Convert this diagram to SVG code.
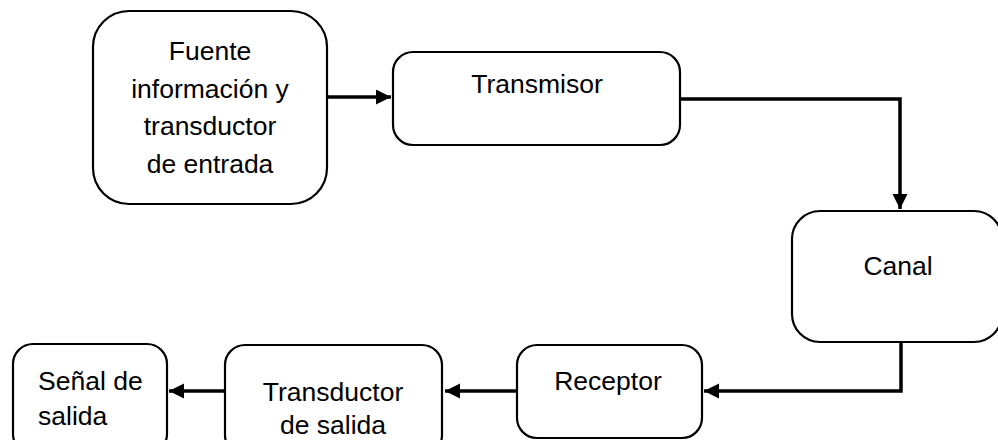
<svg xmlns="http://www.w3.org/2000/svg" width="998" height="440" viewBox="0 0 998 440">
<style>
.box{fill:#fff;stroke:#000;stroke-width:2.2}
.t{font-family:"Liberation Sans",Arial,sans-serif;font-size:26.5px;fill:#000}
.c{text-anchor:middle}
.ln{fill:none;stroke:#000;stroke-width:3.5}
</style>
<defs>
<marker id="ah" markerUnits="userSpaceOnUse" markerWidth="16" markerHeight="16" refX="15" refY="7.5" orient="auto">
<path d="M0,0 L15,7.5 L0,15 Z" fill="#000"/>
</marker>
</defs>
<rect width="998" height="440" fill="#fff"/>
<g id="connectors">
<path class="ln" d="M327,97 H391" marker-end="url(#ah)"/>
<path class="ln" d="M680,99 H900 V209" marker-end="url(#ah)"/>
<path class="ln" d="M901,342 V391 H704" marker-end="url(#ah)"/>
<path class="ln" d="M517,391 H445" marker-end="url(#ah)"/>
<path class="ln" d="M225,391 H169" marker-end="url(#ah)"/>
</g>
<g id="fuente">
<rect class="box" x="93" y="11" width="234" height="193" rx="36"/>
<text class="t c" x="210" y="60">Fuente</text>
<text class="t c" x="210" y="97.5">información y</text>
<text class="t c" x="210" y="135">transductor</text>
<text class="t c" x="210" y="172.5">de entrada</text>
</g>
<g id="transmisor">
<rect class="box" x="393" y="52" width="287" height="93" rx="20"/>
<text class="t c" x="537" y="93">Transmisor</text>
</g>
<g id="canal">
<rect class="box" x="792" y="211" width="210" height="131" rx="28"/>
<text class="t c" x="898" y="275">Canal</text>
</g>
<g id="receptor">
<rect class="box" x="517" y="345" width="185" height="93" rx="20"/>
<text class="t c" x="608" y="390">Receptor</text>
</g>
<g id="transductor">
<rect class="box" x="225" y="345" width="217" height="110" rx="20"/>
<text class="t c" x="333" y="401">Transductor</text>
<text class="t c" x="333" y="434">de salida</text>
</g>
<g id="senal">
<rect class="box" x="13" y="344" width="154" height="110" rx="20"/>
<text class="t" x="38" y="390">Señal de</text>
<text class="t" x="38" y="425">salida</text>
</g>
</svg>
